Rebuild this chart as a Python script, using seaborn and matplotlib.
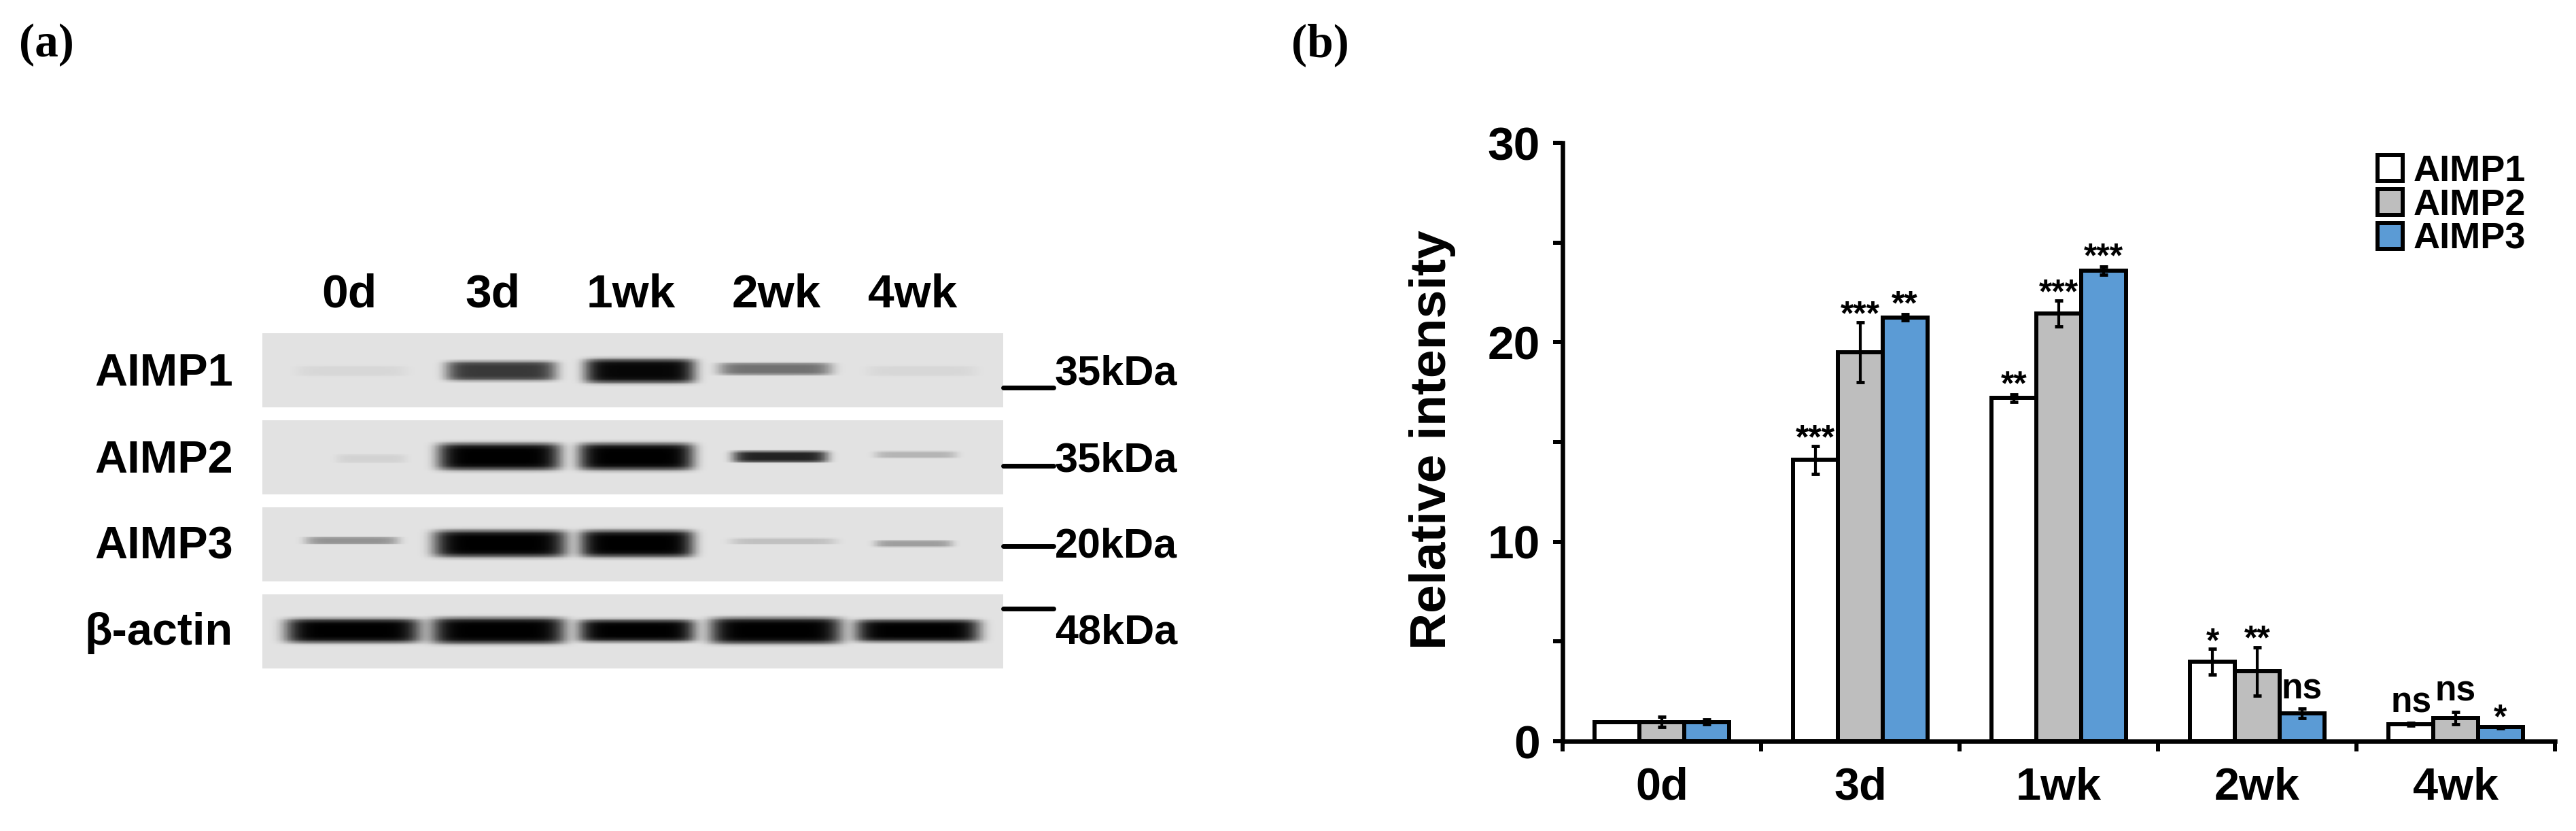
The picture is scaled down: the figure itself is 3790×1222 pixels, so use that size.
import numpy as np
import pandas as pd
import matplotlib
matplotlib.use("Agg")
import matplotlib.pyplot as plt
import seaborn as sns
from matplotlib.lines import Line2D

W, H = 3791, 1222

# bar chart values
times = ["0d", "3d", "1wk", "2wk", "4wk"]
aimp1 = [0.97, 14.1, 17.2, 4.0, 0.85]
aimp2 = [0.97, 19.5, 21.45, 3.5, 1.15]
aimp3 = [0.97, 21.25, 23.6, 1.4, 0.7]
err1 = [0.0, 0.7, 0.2, 0.65, 0.06]
err2 = [0.25, 1.5, 0.65, 1.2, 0.3]
err3 = [0.12, 0.15, 0.2, 0.25, 0.06]
sig1 = ["", "***", "**", "*", "ns"]
sig2 = ["", "***", "***", "**", "ns"]
sig3 = ["", "**", "***", "ns", "*"]
sig_y1 = [0, 15.6, 18.3, 5.4, 1.9]
sig_y2 = [0, 21.8, 22.9, 5.55, 2.5]
sig_y3 = [0, 22.3, 24.7, 2.6, 1.6]

# blot bands: lane start/end along strip (px), darkness, height, centre
blot_names = ["AIMP1", "AIMP2", "AIMP3", "β-actin"]
kda = ["35kDa", "35kDa", "20kDa", "48kDa"]
kda_line_y = [570, 685, 803, 895]
strip_tops = [490, 618, 746, 874]
start1 = [50, 269, 473, 670, 889]
end1 = [211, 432, 636, 837, 1049]
dark1 = [0.05, 0.75, 0.97, 0.5, 0.05]
high1 = [12, 22, 27, 14, 12]
mid1 = [55, 55, 55, 52, 55]
start2 = [108, 257, 464, 691, 900]
end2 = [211, 438, 634, 831, 1021]
dark2 = [0.07, 1.0, 1.0, 0.85, 0.2]
high2 = [10, 30, 30, 13, 8]
mid2 = [56, 53, 53, 53, 50]
start3 = [62, 251, 466, 688, 900]
end3 = [200, 447, 634, 843, 1015]
dark3 = [0.35, 1.0, 1.0, 0.15, 0.3]
high3 = [8, 30, 30, 7, 8]
mid3 = [48, 53, 53, 49, 53]
start4 = [33, 248, 464, 657, 871]
end4 = [232, 445, 636, 852, 1055]
dark4 = [1.0, 1.0, 1.0, 1.0, 1.0]
high4 = [27, 29, 25, 29, 25]
mid4 = [53, 53, 53, 53, 53]
lane_x = [514, 725, 928, 1142, 1343]

sns.set_theme(style="white")
plt.rcParams["font.family"] = ["Liberation Sans", "DejaVu Sans"]

fig = plt.figure(figsize=(W / 100, H / 100), dpi=100, facecolor="white")


def fx(x):
    return x / W


def fy(y):
    return 1 - y / H


def strip(ax, start, end, dark, high, mid):
    xx, yy = np.meshgrid(np.arange(0, 1090, 2), np.arange(0, 109, 2))
    img = np.ones(xx.shape)
    for a, b, d, h, m in zip(start, end, dark, high, mid):
        dx = (xx - (a + b) / 2) / ((b - a) / 2)
        dy = (yy - m) / (h * 0.68)
        img *= 1 - d * np.exp(-(dx ** 8 + dy ** 6))
    sns.heatmap(img * 0.885, ax=ax, cmap="gray", vmin=0, vmax=1, cbar=False,
                xticklabels=False, yticklabels=False)


bands = [(start1, end1, dark1, high1, mid1), (start2, end2, dark2, high2, mid2),
         (start3, end3, dark3, high3, mid3), (start4, end4, dark4, high4, mid4)]
label_y = [550, 678, 804, 931]
for i, top in enumerate(strip_tops):
    ax_s = fig.add_axes([fx(386), fy(top + 109), 1090 / W, 109 / H])
    strip(ax_s, *bands[i])
    fig.text(fx(343), fy(label_y[i]), blot_names[i], ha="right", va="center",
             fontsize=48, fontweight="bold", color="black")
    fig.text(fx(1552), fy(label_y[i]), kda[i], ha="left", va="center",
             fontsize=44, fontweight="bold", color="black")
    fig.add_artist(Line2D([fx(1476), fx(1550)], [fy(kda_line_y[i])] * 2,
                          color="black", lw=5))
for x, t in zip(lane_x, times):
    fig.text(fx(x), fy(434), t, ha="center", va="center", fontsize=50,
             fontweight="bold", color="black")

fig.text(fx(28), fy(83), "(a)", family="Liberation Serif", fontweight="bold",
         fontsize=50, ha="left", va="baseline", color="black")
fig.text(fx(1900), fy(83), "(b)", family="Liberation Serif", fontweight="bold",
         fontsize=50, ha="left", va="baseline", color="black")

# bar chart
ax = fig.add_axes([fx(2299), fy(1090), (3759 - 2299) / W, (1090 - 210) / H])
df = pd.DataFrame({"time": times * 3,
                   "value": aimp1 + aimp2 + aimp3,
                   "protein": ["AIMP1"] * 5 + ["AIMP2"] * 5 + ["AIMP3"] * 5})
sns.barplot(data=df, x="time", y="value", hue="protein", ax=ax, errorbar=None,
            palette=["white", "#BEBEBE", "#5B9BD5"], width=0.675, gap=0,
            edgecolor="black", linewidth=4.3, saturation=1)

errs = [err1, err2, err3]
sigs = [sig1, sig2, sig3]
sig_ys = [sig_y1, sig_y2, sig_y3]
vals = [aimp1, aimp2, aimp3]
for k, cont in enumerate(list(ax.containers)):
    for j, bar in enumerate(cont):
        xc = bar.get_x() + bar.get_width() / 2
        if errs[k][j] > 0:
            ax.errorbar(xc, vals[k][j], yerr=errs[k][j], color="black", lw=3,
                        capsize=4, capthick=3.5, zorder=5)
        s = sigs[k][j]
        if s == "ns":
            ax.text(xc, sig_ys[k][j], s, ha="center", va="center", fontsize=37,
                    fontweight="bold", color="black")
        elif s:
            # asterisk glyph sits high in its box, so nudge it down
            ax.annotate(s, (xc, sig_ys[k][j]), xytext=(0, -10),
                        textcoords="offset points", ha="center", va="center",
                        fontsize=36, fontweight="bold", color="black")

ax.set_xlim(-0.5, 4.5)
ax.set_ylim(0, 30)
ax.set_xlabel("")
ax.set_ylabel("Relative intensity", fontsize=54, fontweight="bold", color="black", va="center")
ax.yaxis.set_label_coords((2108 - 2299) / 1460, (1090 - 647) / 880)
ax.set_yticks([0, 10, 20, 30])
ax.set_yticks([5, 15, 25], minor=True)
ax.set_xticks(range(5))
ax.set_xticklabels(times)
ax.set_xticks(np.arange(-0.5, 5), minor=True)
ax.tick_params(axis="x", which="major", length=0, pad=27, labelsize=48)
ax.tick_params(axis="x", which="minor", bottom=True, length=11, width=4.3, color="black")
ax.tick_params(axis="y", which="both", left=True, length=10, width=4.3, color="black")
ax.tick_params(axis="y", which="major", pad=14, labelsize=50)
for lab in ax.get_xticklabels() + ax.get_yticklabels():
    lab.set_fontweight("bold")
    lab.set_color("black")
sns.despine(ax=ax)
ax.spines["left"].set_linewidth(4.7)
ax.spines["bottom"].set_linewidth(4.7)
ax.spines["left"].set_color("black")
ax.spines["bottom"].set_color("black")

leg = ax.legend(loc="upper left", bbox_to_anchor=((3498 - 2299) / 1460, 1 - 17 / 880), frameon=False,
                fontsize=39, handlelength=0.68, handleheight=0.68, handletextpad=0.3,
                labelspacing=0.0, borderpad=0, borderaxespad=0, labelcolor="black")
for t in leg.get_texts():
    t.set_fontweight("bold")
for h in leg.get_patches():
    h.set_linewidth(4.3)
    h.set_edgecolor("black")

fig.savefig("out.png", dpi=100, facecolor="white")
